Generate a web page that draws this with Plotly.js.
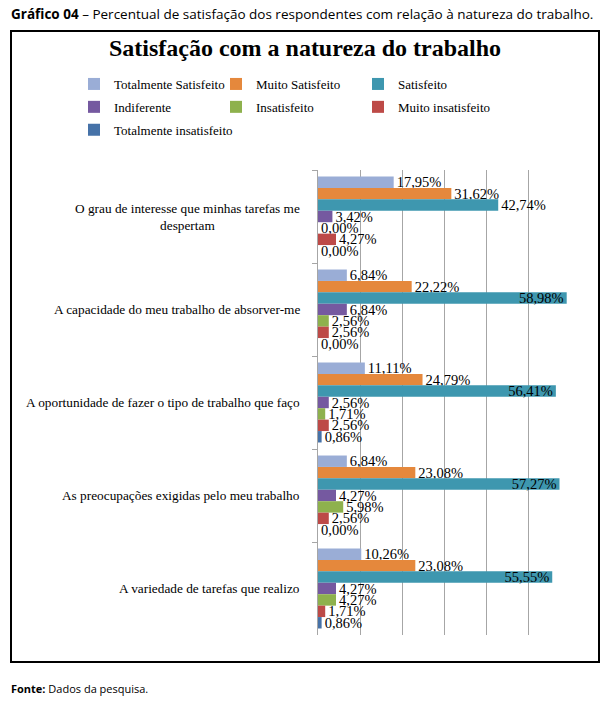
<!DOCTYPE html>
<html>
<head>
<meta charset="utf-8">
<script src="https://cdn.plot.ly/plotly-3.0.1.min.js"></script>
<style>html,body{margin:0;padding:0;background:#fff;}#chart{width:610px;height:705px;}</style>
</head>
<body>
<div id="chart"></div>
<script>
// ---- data ----
const categories = [
  'O grau de interesse que minhas tarefas me<br>despertam',
  'A capacidade do meu trabalho de absorver-me',
  'A oportunidade de fazer o tipo de trabalho que faço',
  'As preocupações exigidas pelo meu trabalho',
  'A variedade de tarefas que realizo'
];
const seriesNames = ['Totalmente Satisfeito','Muito Satisfeito','Satisfeito','Indiferente','Insatisfeito','Muito insatisfeito','Totalmente insatisfeito'];
const totalmenteSatisfeito   = [17.95, 6.84, 11.11, 6.84, 10.26];
const muitoSatisfeito        = [31.62, 22.22, 24.79, 23.08, 23.08];
const satisfeito             = [42.74, 58.98, 56.41, 57.27, 55.55];
const indiferente            = [3.42, 6.84, 2.56, 4.27, 4.27];
const insatisfeito           = [0.00, 2.56, 1.71, 5.98, 4.27];
const muitoInsatisfeito      = [4.27, 2.56, 2.56, 2.56, 1.71];
const totalmenteInsatisfeito = [0.00, 0.00, 0.86, 0.00, 0.86];
const xTickValues = [0, 10, 20, 30, 40, 50, 60];

// ---- styling ----
const colors = ['#9AADD6','#E5883C','#3E97AF','#7559A0','#8EB14D','#BD4A47','#4672A8'];
const legendOf = ['legend','legend2','legend3','legend','legend2','legend3','legend'];
const allSeries = [totalmenteSatisfeito, muitoSatisfeito, satisfeito, indiferente, insatisfeito, muitoInsatisfeito, totalmenteInsatisfeito];

const W = 610, H = 705, L = 318, R = 571, T = 170, B = 635;
const xp = px => (px - L) / (R - L);
const yp = py => (B - py) / (B - T);
const serif = 'Liberation Serif, Times New Roman, serif';
const sans = 'Open Sans, Noto Sans, sans-serif';

const fmt = v => v.toFixed(2).replace('.', ',') + '%';

const traces = allSeries.map((vals, i) => ({
  type: 'bar',
  orientation: 'h',
  name: seriesNames[i],
  legend: legendOf[i],
  legendgroup: seriesNames[i],
  x: vals,
  y: categories,
  marker: {color: colors[i], line: {width: 0}},
  text: vals.map(fmt),
  textposition: vals.map(v => v > 50 ? 'inside' : 'outside'),
  insidetextanchor: 'end',
  textfont: {family: serif, size: 14.5, color: '#000'},
  constraintext: 'none',
  cliponaxis: false,
  hoverinfo: 'x+name'
}));

const legendBase = {
  orientation: 'v', traceorder: 'grouped', tracegroupgap: 3,
  xanchor: 'left', yanchor: 'top', bgcolor: 'rgba(0,0,0,0)', borderwidth: 0,
  font: {family: serif, size: 13, color: '#000'}, itemwidth: 30
};

const annotations = categories.map(c => ({
  xref: 'paper', yref: 'y', x: 0, y: c, xanchor: 'right', yanchor: 'middle', xshift: -16,
  text: c, align: 'center', showarrow: false,
  font: {family: serif, size: 13.3, color: '#000'}
}));
annotations.push({
  xref: 'paper', yref: 'paper', x: xp(9), y: yp(14), xanchor: 'left', yanchor: 'middle',
  text: '<b>Gráfico 04</b> – Percentual de satisfação dos respondentes com relação à natureza do trabalho.',
  showarrow: false, font: {family: sans, size: 13.5, color: '#000'}
});
annotations.push({
  xref: 'paper', yref: 'paper', x: xp(9), y: yp(688), xanchor: 'left', yanchor: 'middle',
  text: '<b>Fonte:</b> Dados da pesquisa.',
  showarrow: false, font: {family: sans, size: 11, color: '#000'}
});

const layout = {
  width: W, height: H,
  margin: {l: L, r: W - R, t: T, b: H - B, pad: 0},
  paper_bgcolor: '#fff', plot_bgcolor: '#fff',
  title: {text: '<b>Satisfação com a natureza do trabalho</b>', x: 0.5, xref: 'container', xanchor: 'center',
          y: 1 - 48 / H, yref: 'container', yanchor: 'middle', font: {family: serif, size: 24, color: '#000'}},
  barmode: 'group', bargap: 0.14, bargroupgap: 0,
  xaxis: {range: [0, 60], tickvals: xTickValues, showticklabels: false, showgrid: true, gridcolor: '#A6A6A6',
          gridwidth: 1, zeroline: false, showline: false, fixedrange: true},
  yaxis: {type: 'category', autorange: 'reversed', showticklabels: false, showline: true, linecolor: '#A6A6A6',
          linewidth: 1, ticks: 'outside', tickson: 'boundaries', ticklen: 5, tickcolor: '#A6A6A6', showgrid: false, fixedrange: true},
  legend: Object.assign({}, legendBase, {x: xp(74), y: yp(69)}),
  legend2: Object.assign({}, legendBase, {x: xp(216), y: yp(69)}),
  legend3: Object.assign({}, legendBase, {x: xp(358), y: yp(69)}),
  shapes: [{type: 'rect', xref: 'paper', yref: 'paper', x0: xp(11), x1: xp(599), y0: yp(31), y1: yp(662),
            line: {color: '#000', width: 2}, fillcolor: 'rgba(0,0,0,0)', layer: 'above'}],
  annotations: annotations,
  showlegend: true
};

Plotly.newPlot('chart', traces, layout, {displayModeBar: false, staticPlot: true});
</script>
</body>
</html>
